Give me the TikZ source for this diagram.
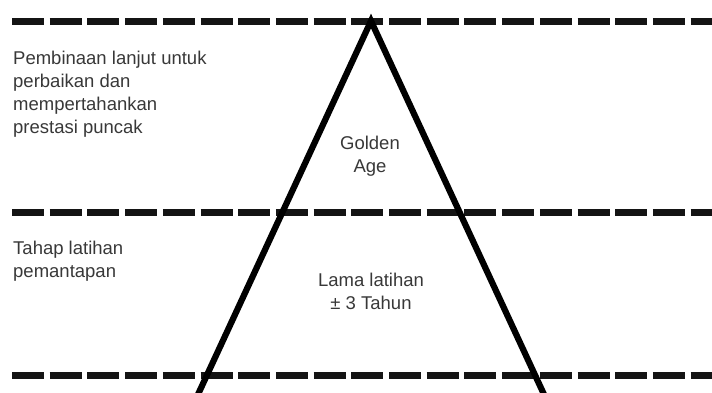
\documentclass[tikz,border=0pt]{standalone}
\usepackage{fontspec}
\setmainfont{Liberation Sans}
\begin{document}
\begin{tikzpicture}[x=1pt,y=-1pt,
  sepline/.style={line width=7pt, dash pattern=on 32pt off 5.7pt, black!92},
  tri/.style={line width=6.2pt, black, line join=miter},
  lbl/.style={text=black!78, font=\fontsize{18.5}{23}\selectfont, inner sep=0pt},
  leftlbl/.style={lbl, anchor=north west, align=left},
  midlbl/.style={lbl, anchor=center, align=center}]
\useasboundingbox (0,0) rectangle (712,392);
\clip (0,0) rectangle (712,392);
\coordinate (l1a) at (12,21);
\coordinate (l1b) at (712,21);
\coordinate (l2a) at (12,212);
\coordinate (l2b) at (712,212);
\coordinate (l3a) at (12,375);
\coordinate (l3b) at (712,375);
\draw[sepline] (l1a) -- (l1b);
\draw[sepline] (l2a) -- (l2b);
\draw[sepline] (l3a) -- (l3b);
\coordinate (apex) at (371,21);
\coordinate (bl) at (194.5,402);
\coordinate (br) at (547.5,402);
\draw[tri] (bl) -- (apex) -- (br);
\node[leftlbl] (t1) at (13,51) {Pembinaan lanjut untuk\\perbaikan dan\\mempertahankan\\prestasi puncak};
\node[midlbl] (t2) at (370,156) {Golden\\Age};
\node[leftlbl] (t3) at (13,241) {Tahap latihan\\pemantapan};
\node[midlbl] (t4) at (371,291) {Lama latihan\\± 3 Tahun};
\end{tikzpicture}
\end{document}
